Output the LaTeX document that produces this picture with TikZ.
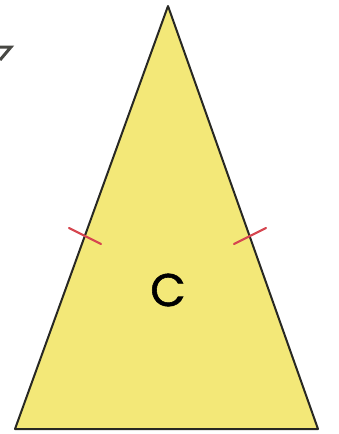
\documentclass[tikz,border=0pt]{standalone}
\usepackage{fontspec}
\newfontfamily\labelfont[FakeBold=1.2]{Poppins}
\definecolor{triyellow}{RGB}{243,232,120}
\definecolor{tickred}{RGB}{214,70,80}
\definecolor{edgegray}{RGB}{40,40,35}
\begin{document}
\begin{tikzpicture}[x=1pt,y=-1pt,
  edge/.style={draw=edgegray,line width=2pt,line join=round},
  tickmark/.style={draw=tickred,line width=2.2pt,line cap=round},
  fragment/.style={draw=edgegray!85,line width=3pt}]
\useasboundingbox (0,0) rectangle (338,434);
\fill[white] (0,0) rectangle (338,434);
\coordinate (A) at (168,6);
\coordinate (B) at (15,429);
\coordinate (Cc) at (318,429);
\filldraw[edge,fill=triyellow] (A) -- (B) -- (Cc) -- cycle;
\coordinate (t1a) at (69,228);
\coordinate (t1b) at (101,244);
\draw[tickmark] (t1a) -- (t1b);
\coordinate (t2a) at (234,244);
\coordinate (t2b) at (266,228);
\draw[tickmark] (t2a) -- (t2b);
\node (lab) at (168,290) {\labelfont\fontsize{46}{46}\selectfont C};
\coordinate (f1) at (0,60);
\coordinate (f2) at (11,47);
\coordinate (f3) at (0,47);
\draw[fragment] (f3) -- (f2) -- (f1);
\end{tikzpicture}
\end{document}
